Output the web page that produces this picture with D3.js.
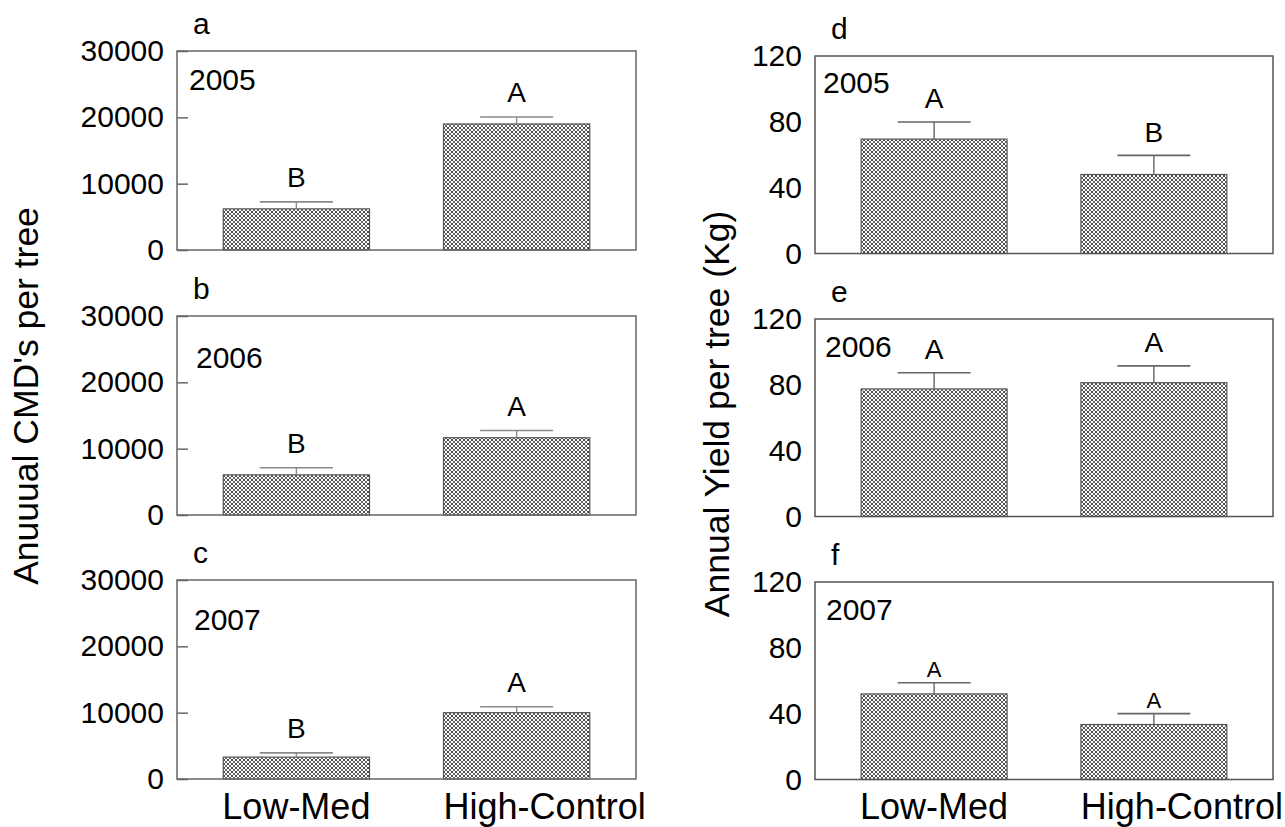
<!DOCTYPE html>
<html><head><meta charset="utf-8">
<script src="https://cdn.jsdelivr.net/npm/d3@7/dist/d3.min.js"></script>
<style>
html,body{margin:0;padding:0;background:#fff;}
svg text{font-family:"Liberation Sans",Arial,sans-serif;fill:#000;}
</style></head>
<body>
<svg id="chart" width="1285" height="827"></svg>
<script>
// ---- data ----
const categories = ["Low-Med", "High-Control"];
const years = ["2005", "2006", "2007"];
const cmdPanelLabels = ["a", "b", "c"];
const yieldPanelLabels = ["d", "e", "f"];
const cmdMeans = [[6200, 19000], [6050, 11650], [3300, 10000]];
const cmdErrors = [[1050, 1050], [1070, 1080], [640, 900]];
const cmdLetters = [["B", "A"], ["B", "A"], ["B", "A"]];
const yieldMeans = [[69.5, 48], [77.5, 81.3], [52, 33.4]];
const yieldErrors = [[10.4, 11.6], [9.8, 10.2], [6.8, 6.6]];
const yieldLetters = [["A", "B"], ["A", "A"], ["A", "A"]];
const cmdTicks = [0, 10000, 20000, 30000];
const yieldTicks = [0, 40, 80, 120];
const cmdTitle = "Anuuual CMD's per tree";
const yieldTitle = "Annual Yield per tree (Kg)";

const svg = d3.select("#chart");
const defs = svg.append("defs");
const pat = defs.append("pattern").attr("id", "hatch")
  .attr("patternUnits", "userSpaceOnUse").attr("width", 4).attr("height", 4);
pat.append("rect").attr("width", 4).attr("height", 4).attr("fill", "#fff");
pat.append("path").attr("d", "M0,0L4,4M4,0L0,4").attr("stroke", "#4a4a4a").attr("stroke-width", 1);
pat.append("rect").attr("x", 1.6).attr("y", 1.6).attr("width", 0.8).attr("height", 0.8).attr("fill", "#fff");

function panel(opt) {
  const { x0, x1, top, h, max, ticks, means, errs, letters, year, label,
          inTick, yearDx, yearDy, letterSize, letterGap, labelDx, labelDy, frameColor, errColor } = opt;
  const g = svg.append("g");
  const x = d3.scaleBand().domain(categories).range([x0, x1]).paddingInner(0.336).paddingOuter(0.21);
  const y = d3.scaleLinear().domain([0, max]).range([top + h, top]);
  const data = categories.map((c, i) => ({ c, m: means[i], e: errs[i], l: letters[i] }));

  g.selectAll("rect.bar").data(data).join("rect").attr("class", "bar")
    .attr("x", d => x(d.c)).attr("width", x.bandwidth())
    .attr("y", d => y(d.m)).attr("height", d => y(0) - y(d.m))
    .attr("fill", "url(#hatch)").attr("stroke", "#555").attr("stroke-width", 1.2);

  const eb = g.selectAll("g.err").data(data).join("g").attr("class", "err");
  eb.append("line").attr("x1", d => x(d.c) + x.bandwidth() / 2).attr("x2", d => x(d.c) + x.bandwidth() / 2)
    .attr("y1", d => y(d.m)).attr("y2", d => y(d.m + d.e)).attr("stroke", errColor).attr("stroke-width", 1.4);
  eb.append("line").attr("x1", d => x(d.c) + x.bandwidth() / 4).attr("x2", d => x(d.c) + x.bandwidth() * 3 / 4)
    .attr("y1", d => y(d.m + d.e)).attr("y2", d => y(d.m + d.e)).attr("stroke", errColor).attr("stroke-width", 1.6);
  eb.append("text").attr("x", d => x(d.c) + x.bandwidth() / 2).attr("y", d => y(d.m + d.e) - letterGap)
    .attr("text-anchor", "middle").style("font-size", letterSize + "px").text(d => d.l);

  g.append("rect").attr("x", x0).attr("y", top).attr("width", x1 - x0).attr("height", h)
    .attr("fill", "none").attr("stroke", frameColor).attr("stroke-width", 1.5);

  const ax = g.append("g").attr("transform", `translate(${x0},0)`)
    .call(d3.axisLeft(y).tickValues(ticks).tickSize(inTick ? -11 : 0).tickPadding(13).tickFormat(d3.format("d")));
  ax.select(".domain").remove();
  ax.selectAll(".tick line").attr("stroke", frameColor).attr("stroke-width", 1.5)
    .attr("x1", 0).attr("x2", inTick ? 11 : 0);
  ax.selectAll(".tick text").attr("x", -13).style("font-size", "30px").style("font-family", '"Liberation Sans",Arial,sans-serif').attr("fill", "#000");

  g.append("text").attr("x", x0 + yearDx).attr("y", top + yearDy).style("font-size", "30px").text(year);
  g.append("text").attr("x", x0 + labelDx).attr("y", top - labelDy).style("font-size", "30px").text(label);
  return x;
}

const leftTops = [51, 316, 580];
const rightTops = [56, 319, 582];
const leftYearDx = [12, 19, 17], leftYearDy = [39, 52, 50];
const rightYearDx = [8, 10, 11], rightYearDy = [37, 38, 38];
let xl, xr;
years.forEach((yr, i) => {
  xl = panel({ x0: 177, x1: 636, top: leftTops[i], h: 199, max: 30000, ticks: cmdTicks,
    means: cmdMeans[i], errs: cmdErrors[i], letters: cmdLetters[i], year: yr, label: cmdPanelLabels[i],
    inTick: true, yearDx: leftYearDx[i], yearDy: leftYearDy[i], letterSize: 28, letterGap: 15,
    labelDx: 16, labelDy: 17, frameColor: "#666", errColor: "#8a8a8a" });
  xr = panel({ x0: 815, x1: 1273, top: rightTops[i], h: 197.5, max: 120, ticks: yieldTicks,
    means: yieldMeans[i], errs: yieldErrors[i], letters: yieldLetters[i], year: yr, label: yieldPanelLabels[i],
    inTick: false, yearDx: rightYearDx[i], yearDy: rightYearDy[i], letterSize: i === 2 ? 22 : 28, letterGap: i === 2 ? 6 : 13.5,
    labelDx: 16, labelDy: 17, frameColor: "#555", errColor: "#666" });
});

// category labels under bottom panels (second label sits a little right of its bar)
const labelShift = [0, 28];
[xl, xr].forEach(x => {
  svg.append("g").selectAll("text").data(categories).join("text")
    .attr("x", (d, i) => x(d) + x.bandwidth() / 2 + labelShift[i]).attr("y", 819)
    .attr("text-anchor", "middle").style("font-size", "36px").text(d => d);
});

svg.append("text").attr("transform", "translate(38,396) rotate(-90)").attr("text-anchor", "middle")
  .style("font-size", "35.5px").text(cmdTitle);
svg.append("text").attr("transform", "translate(729,414) rotate(-90)").attr("text-anchor", "middle")
  .style("font-size", "35.5px").text(yieldTitle);
</script>
</body></html>
